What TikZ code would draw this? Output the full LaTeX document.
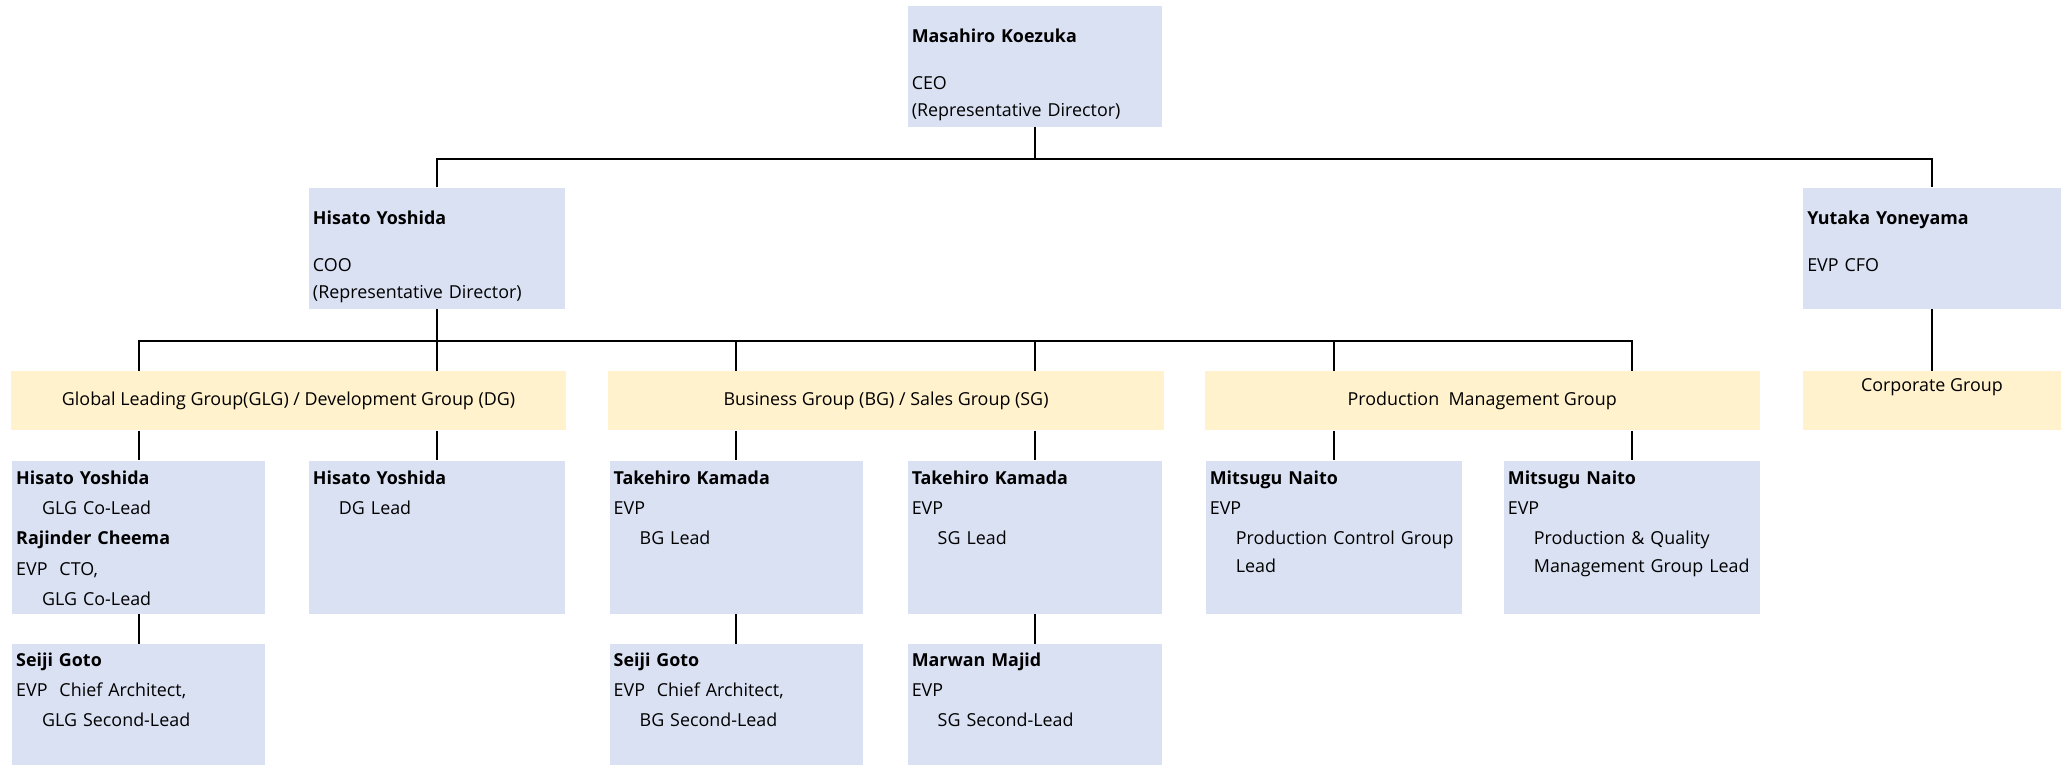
\documentclass[tikz,border=0pt]{standalone}
\usepackage{fontspec}
\setmainfont{Open Sans}
\usetikzlibrary{positioning, calc}
\usepackage{xcolor}
\definecolor{boxblue}{HTML}{DAE1F3}
\definecolor{grpyellow}{HTML}{FFF2CC}
\newcommand{\indnt}{\hspace*{13pt}}

\begin{document}
\begin{tikzpicture}[x=0.66pt, y=-0.66pt, font=\fontsize{8.95}{15.2}\selectfont,
  box/.style 2 args={rectangle, fill=boxblue, anchor=north west, inner sep=0pt, minimum width=#1*0.66pt, minimum height=#2*0.66pt},
  grp/.style={rectangle, fill=grpyellow, anchor=north west, inner sep=0pt, minimum width=#1*0.66pt, minimum height=45*0.66pt},
  txt/.style={anchor=base west, inner sep=0pt, align=left, text width=200pt},
  conn/.style={draw=black, line width=0.9pt}]
\useasboundingbox (0,0) rectangle (1568,580);
% top levels
\node[box={193}{92}] (ceo) at (688,4) {};
\node[box={194}{92}] (coo) at (234,142) {};
\node[box={195}{92}] (cfo) at (1367,142) {};
\node[txt] (ceo-t) at ([shift={(3,28.5)}]ceo.north west) {\textbf{Masahiro Koezuka}\\[7.9pt]CEO\\[-1.3pt](Representative Director)};
\node[txt] (coo-t) at ([shift={(3,28.5)}]coo.north west) {\textbf{Hisato Yoshida}\\[7.9pt]COO\\[-1.3pt](Representative Director)};
\node[txt] (cfo-t) at ([shift={(3,28.5)}]cfo.north west) {\textbf{Yutaka Yoneyama}\\[7.9pt]EVP CFO};
% groups
\node[grp=421] (glg) at (8,281) {Global Leading Group(GLG) / Development Group (DG)};
\node[grp=421] (bgsg) at (461,281) {Business Group (BG) / Sales Group (SG)};
\node[grp=421] (pmg) at (913,281) {Production~~Management Group};
\node[grp=195] (corp) at (1367,281) {};
\node[anchor=base, inner sep=0pt] (corp-t) at ([shift={(0,16)}]corp.north) {Corporate Group};
% leads
\node[box={192}{116}] (a) at (9,349) {};
\node[box={194}{116}] (b) at (234,349) {};
\node[box={192}{116}] (c) at (462,349) {};
\node[box={193}{116}] (d) at (688,349) {};
\node[box={194}{116}] (e) at (914,349) {};
\node[box={194}{116}] (f) at (1140,349) {};
\node[txt] (a-t) at ([shift={(3,18)}]a.north west) {\textbf{Hisato Yoshida}\\\indnt GLG Co-Lead\\\textbf{Rajinder Cheema}\\EVP~~CTO,\\\indnt GLG Co-Lead};
\node[txt] (b-t) at ([shift={(3,18)}]b.north west) {\textbf{Hisato Yoshida}\\\indnt DG Lead};
\node[txt] (c-t) at ([shift={(3,18)}]c.north west) {\textbf{Takehiro Kamada}\\EVP\\\indnt BG Lead};
\node[txt] (d-t) at ([shift={(3,18)}]d.north west) {\textbf{Takehiro Kamada}\\EVP\\\indnt SG Lead};
\node[txt] (e-t) at ([shift={(3,18)}]e.north west) {\textbf{Mitsugu Naito}\\EVP\\\indnt Production Control Group\\[-1.3pt]\indnt Lead};
\node[txt] (f-t) at ([shift={(3,18)}]f.north west) {\textbf{Mitsugu Naito}\\EVP\\\indnt Production \& Quality\\[-1.3pt]\indnt Management Group Lead};
% second leads
\node[box={192}{92}] (g) at (9,488) {};
\node[box={192}{92}] (h) at (462,488) {};
\node[box={193}{92}] (i) at (688,488) {};
\node[txt] (g-t) at ([shift={(3,17)}]g.north west) {\textbf{Seiji Goto}\\EVP~~Chief Architect,\\\indnt GLG Second-Lead};
\node[txt] (h-t) at ([shift={(3,17)}]h.north west) {\textbf{Seiji Goto}\\EVP~~Chief Architect,\\\indnt BG Second-Lead};
\node[txt] (i-t) at ([shift={(3,17)}]i.north west) {\textbf{Marwan Majid}\\EVP\\\indnt SG Second-Lead};
% connectors
\path (ceo.south) ++(0,24) coordinate (bus1);
\path (coo.south) ++(0,24) coordinate (bus2);
\draw[conn] (ceo.south) -- (bus1);
\draw[conn] (coo.north) |- (bus1) -| (cfo.north);
\draw[conn] (cfo.south) -- (corp.north);
\draw[conn] (coo.south) -- (bus2);
\draw[conn] (bus2) -| (a.north |- glg.north);
\draw[conn] (bus2) -| (b.north |- glg.north);
\draw[conn] (bus2) -| (c.north |- bgsg.north);
\draw[conn] (bus2) -| (d.north |- bgsg.north);
\draw[conn] (bus2) -| (e.north |- pmg.north);
\draw[conn] (bus2) -| (f.north |- pmg.north);
\draw[conn] (glg.south -| a.north) -- (a.north);
\draw[conn] (glg.south -| b.north) -- (b.north);
\draw[conn] (bgsg.south -| c.north) -- (c.north);
\draw[conn] (bgsg.south -| d.north) -- (d.north);
\draw[conn] (pmg.south -| e.north) -- (e.north);
\draw[conn] (pmg.south -| f.north) -- (f.north);
\draw[conn] (a.south) -- (g.north);
\draw[conn] (c.south) -- (h.north);
\draw[conn] (d.south) -- (i.north);
\end{tikzpicture}
\end{document}
